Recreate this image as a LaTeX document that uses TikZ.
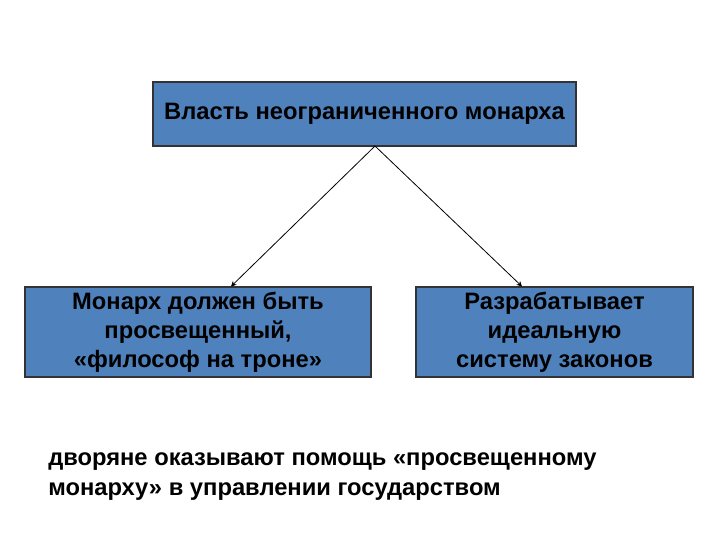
\documentclass[tikz,border=0pt]{standalone}
\usepackage{fontspec}
\setmainfont{Liberation Sans}
\usetikzlibrary{arrows.meta}
\begin{document}
\begin{tikzpicture}[x=0.75pt,y=-0.75pt,
  box/.style={draw=black!80, fill=boxblue, line width=0.8pt, inner sep=0pt, align=center, font=\bfseries\fontsize{17.8pt}{21.75pt}\selectfont},
  conn/.style={draw=black, line width=0.6pt, -{Stealth[length=4pt,width=4pt]}}]
\definecolor{boxblue}{HTML}{4F81BD}
\useasboundingbox (0,0) rectangle (720,540);
\node[box, minimum width=423*0.75pt, minimum height=64*0.75pt] (top) at (364.5,114) {Власть неограниченного монарха};
\node[box, minimum width=346*0.75pt, minimum height=90*0.75pt] (left) at (198,332) {Монарх должен быть\\просвещенный,\\«философ на троне»};
\node[box, minimum width=277*0.75pt, minimum height=90*0.75pt] (right) at (554.5,332) {Разрабатывает\\идеальную\\систему законов};
\coordinate (s) at (375,146);
\draw[conn] (s) -- (left.north -| 231,0);
\draw[conn] (s) -- (right.north -| 522,0);
\node[anchor=base west, align=left, inner sep=0pt, font=\bfseries\fontsize{17.8pt}{22.5pt}\selectfont] (bottom) at (48,495) {дворяне оказывают помощь «просвещенному\\монарху» в управлении государством};
\end{tikzpicture}
\end{document}
